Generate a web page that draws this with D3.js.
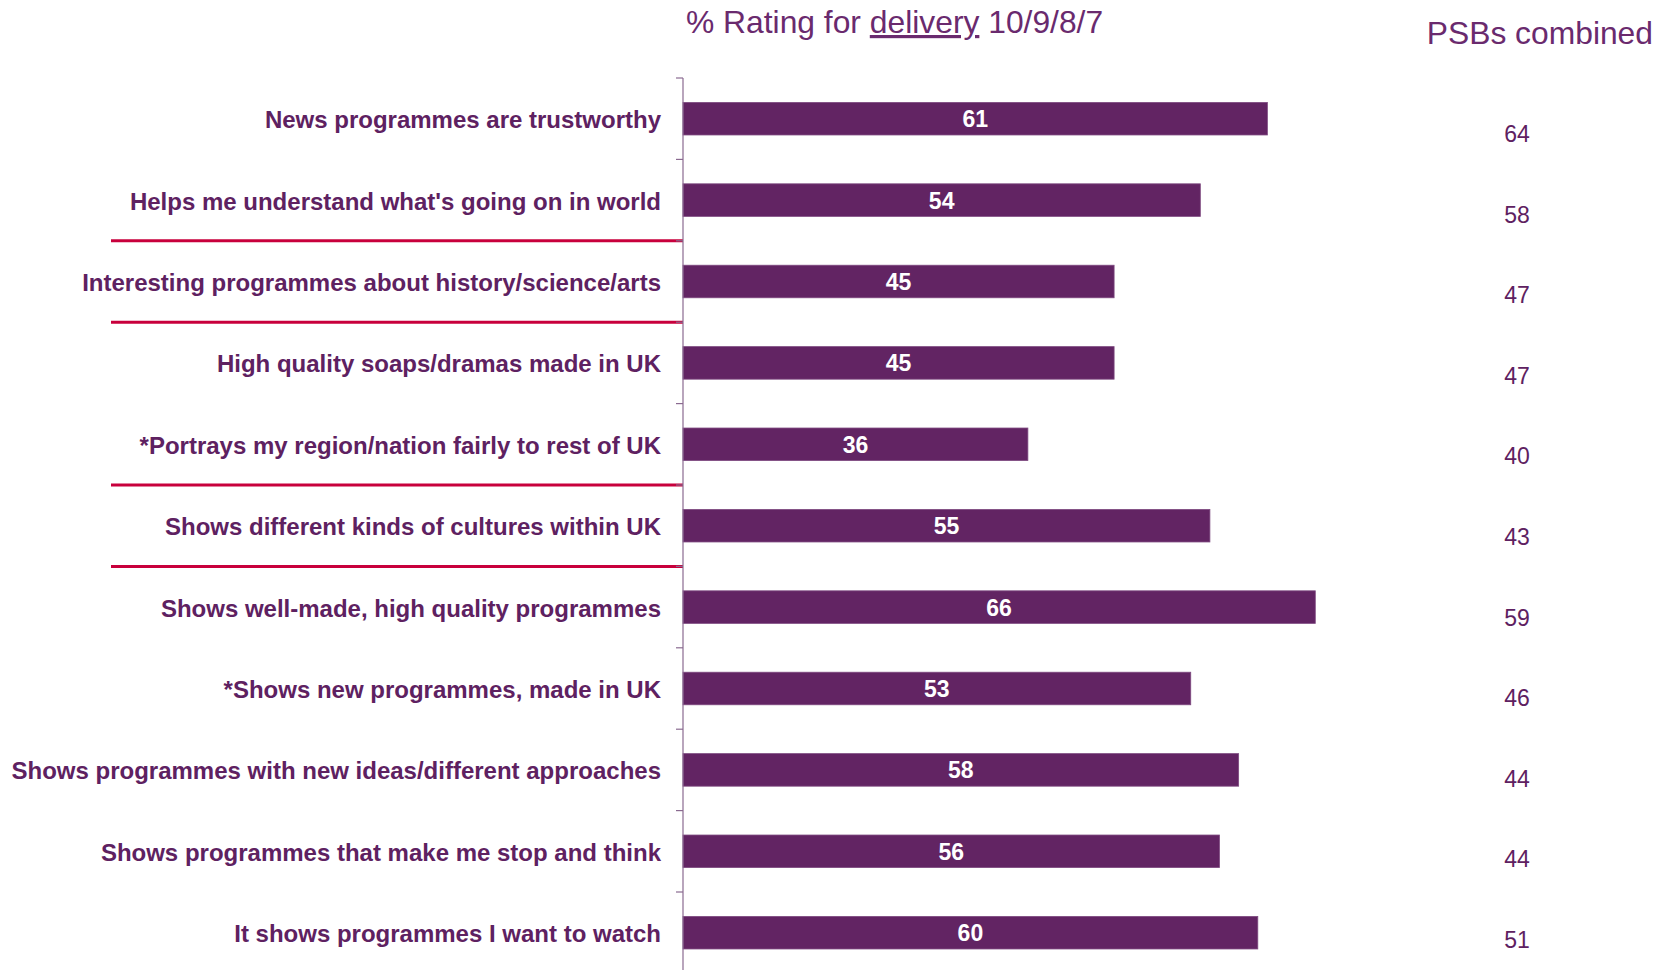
<!DOCTYPE html>
<html>
<head>
<meta charset="utf-8">
<script src="https://cdn.jsdelivr.net/npm/d3@7"></script>
<style>
  html, body { margin: 0; padding: 0; background: #ffffff; }
  svg { display: block; }
</style>
</head>
<body>
<svg id="chart" width="1672" height="970"></svg>
<script>
// Statements rated by viewers
const categories = [
  "News programmes are trustworthy",
  "Helps me understand what's going on in world",
  "Interesting programmes about history/science/arts",
  "High quality soaps/dramas made in UK",
  "*Portrays my region/nation fairly to rest of UK",
  "Shows different kinds of cultures within UK",
  "Shows well-made, high quality programmes",
  "*Shows new programmes, made in UK",
  "Shows programmes with new ideas/different approaches",
  "Shows programmes that make me stop and think",
  "It shows programmes I want to watch"
];
// % rating for delivery (10/9/8/7)
const deliveryValues = [61, 54, 45, 45, 36, 55, 66, 53, 58, 56, 60];
// PSBs combined comparison
const psbCombined = [64, 58, 47, 47, 40, 43, 59, 46, 44, 44, 51];
// Group separators drawn after these rows
const separatorsAfter = [1, 2, 4, 5];

const purple = "#622463";
const textPurple = "#5e2161";
const red = "#c8003c";
const font = "Liberation Sans, Arial, sans-serif";

const svg = d3.select("#chart");
const x0 = 683;

const x = d3.scaleLinear().domain([0, 100]).range([x0, x0 + 958]);
const y = d3.scaleBand()
  .domain(categories)
  .range([78, 973.4])
  .paddingInner(0.6)
  .paddingOuter(0.3);
// the comparison column sits on its own slightly tighter grid
const yPsb = d3.scalePoint()
  .domain(categories)
  .range([142, 948]);

const step = y.step();
const boundary = i => y.range()[0] + step * i; // row edge positions

// Title
const title = svg.append("text")
  .attr("x", 686).attr("y", 33)
  .attr("font-family", font)
  .attr("font-size", 31.8)
  .attr("fill", "#6a2a6e");
title.append("tspan").text("% Rating for ");
title.append("tspan").attr("text-decoration", "underline").text("delivery");
title.append("tspan").text(" 10/9/8/7");

svg.append("text")
  .attr("x", 1653).attr("y", 44)
  .attr("text-anchor", "end")
  .attr("font-family", font)
  .attr("font-size", 31.8)
  .attr("fill", "#6a2a6e")
  .text("PSBs combined");

// Group separators
svg.append("g").selectAll("line")
  .data(separatorsAfter)
  .join("line")
  .attr("x1", 111).attr("x2", x0)
  .attr("y1", d => boundary(d + 1)).attr("y2", d => boundary(d + 1))
  .attr("stroke", red)
  .attr("stroke-width", 3);

// Bars
svg.append("g").selectAll("rect")
  .data(categories)
  .join("rect")
  .attr("x", x(0))
  .attr("y", d => y(d))
  .attr("width", (d, i) => x(deliveryValues[i]) - x(0))
  .attr("height", y.bandwidth())
  .attr("fill", purple)
  .attr("stroke", "#7e4a80")
  .attr("stroke-width", 0.8);

// Value labels inside bars
svg.append("g").selectAll("text")
  .data(categories)
  .join("text")
  .attr("x", (d, i) => (x(0) + x(deliveryValues[i])) / 2)
  .attr("y", d => y(d) + y.bandwidth() / 2 + 8.5)
  .attr("text-anchor", "middle")
  .attr("font-family", font)
  .attr("font-weight", "bold")
  .attr("font-size", 23)
  .attr("fill", "#ffffff")
  .text((d, i) => deliveryValues[i]);

// Category labels
svg.append("g").selectAll("text")
  .data(categories)
  .join("text")
  .attr("x", 661)
  .attr("y", d => y(d) + y.bandwidth() / 2 + 9.5)
  .attr("text-anchor", "end")
  .attr("font-family", font)
  .attr("font-weight", "bold")
  .attr("font-size", 24)
  .attr("fill", textPurple)
  .text(d => d);

// PSBs combined values
svg.append("g").selectAll("text")
  .data(categories)
  .join("text")
  .attr("x", 1517)
  .attr("y", d => yPsb(d))
  .attr("text-anchor", "middle")
  .attr("font-family", font)
  .attr("font-size", 23)
  .attr("fill", textPurple)
  .text((d, i) => psbCombined[i]);

// Category axis with ticks at row edges
const axisG = svg.append("g");
axisG.append("line")
  .attr("x1", x0).attr("x2", x0)
  .attr("y1", boundary(0)).attr("y2", 970)
  .attr("stroke", "#8a6a90").attr("stroke-width", 1.2);
axisG.selectAll("line.tick")
  .data(d3.range(categories.length + 1))
  .join("line")
  .attr("class", "tick")
  .attr("x1", x0 - 7).attr("x2", x0)
  .attr("y1", d => boundary(d)).attr("y2", d => boundary(d))
  .attr("stroke", "#8a6a90").attr("stroke-width", 1.2);
</script>
</body>
</html>
